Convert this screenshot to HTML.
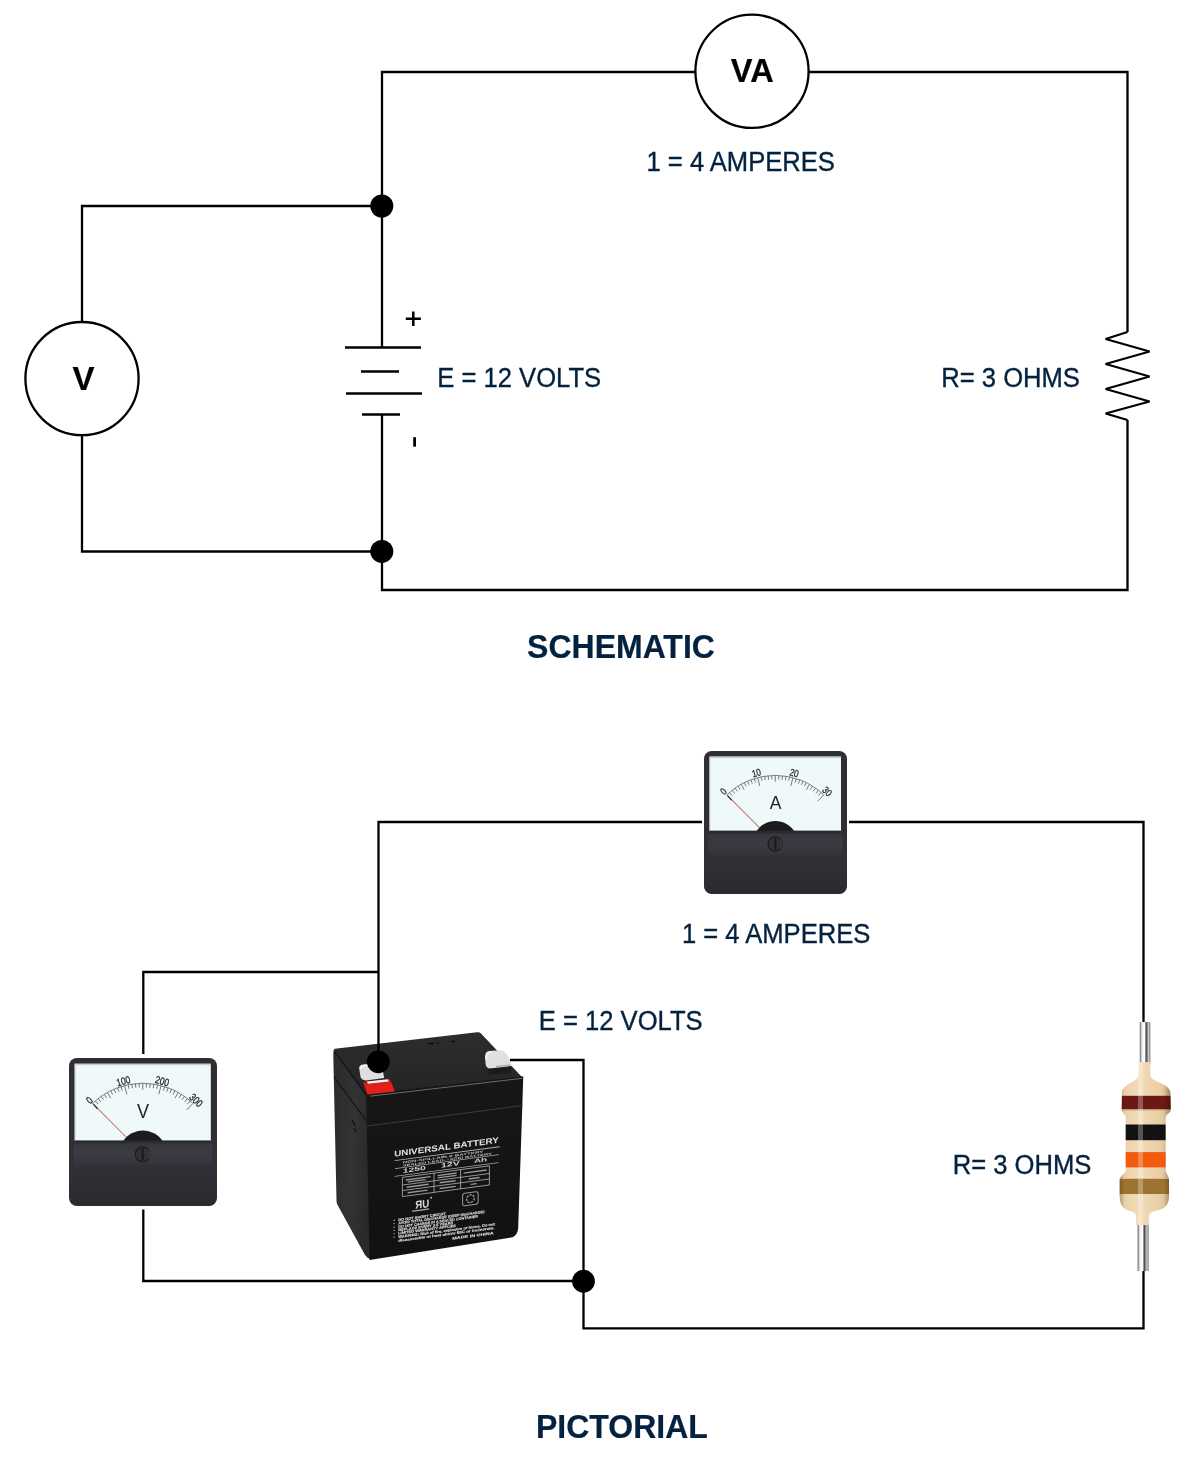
<!DOCTYPE html>
<html><head><meta charset="utf-8"><title>Circuit</title>
<style>html,body{margin:0;padding:0;background:#fff;width:1200px;height:1472px;overflow:hidden}
svg{display:block;font-family:"Liberation Sans",sans-serif;will-change:transform}</style></head>
<body><svg width="1200" height="1472" viewBox="0 0 1200 1472" font-family="Liberation Sans, sans-serif"><defs><linearGradient id="pan1" x1="0" y1="0" x2="0" y2="1"><stop offset="0" stop-color="#2f2f34"/><stop offset="0.4" stop-color="#313036"/><stop offset="1" stop-color="#2b2a2f"/></linearGradient><linearGradient id="pan2" x1="0" y1="0" x2="0" y2="1"><stop offset="0" stop-color="#2f2f34"/><stop offset="0.4" stop-color="#313036"/><stop offset="1" stop-color="#2b2a2f"/></linearGradient><linearGradient id="band1" x1="0" y1="0" x2="0" y2="1"><stop offset="0" stop-color="#2a2a2f"/><stop offset="0.1" stop-color="#37373e"/><stop offset="0.45" stop-color="#3b3b43"/><stop offset="0.8" stop-color="#36363d"/><stop offset="1" stop-color="#313036"/></linearGradient><linearGradient id="band2" x1="0" y1="0" x2="0" y2="1"><stop offset="0" stop-color="#2a2a2f"/><stop offset="0.1" stop-color="#37373e"/><stop offset="0.45" stop-color="#3b3b43"/><stop offset="0.8" stop-color="#36363d"/><stop offset="1" stop-color="#313036"/></linearGradient><linearGradient id="btop" x1="0" y1="0" x2="0" y2="1"><stop offset="0" stop-color="#2d2d2d"/><stop offset="1" stop-color="#242424"/></linearGradient><linearGradient id="bside" x1="0" y1="0" x2="1" y2="0.3"><stop offset="0" stop-color="#2a2a2a"/><stop offset="0.6" stop-color="#333333"/><stop offset="1" stop-color="#2a2a2a"/></linearGradient><linearGradient id="bfront" x1="0" y1="0" x2="0" y2="1"><stop offset="0" stop-color="#171717"/><stop offset="1" stop-color="#111111"/></linearGradient></defs>
<g fill="none" stroke="#000" stroke-width="2.3" stroke-linecap="butt" stroke-linejoin="miter">
<path d="M382,347.5 V72 H1127.5 V332"/>
<path stroke-linejoin="bevel" d="M1127.5,332 L1105.6,339 L1149.6,351.5 L1105.6,364 L1149.6,376.5 L1105.6,389 L1149.6,401.5 L1105.6,413.5 L1127.5,420"/>
<path d="M1127.5,420 V590 H382 V414.4"/>
<path d="M382,206 H82 V551.5 H382"/>
<path d="M345,347.5 H421 M361,371.6 H399 M346,393.5 H422 M362,414.4 H400" stroke-width="2.5"/>
<path d="M405.8,318.7 H420.9 M413.3,311.4 V326.1" stroke-width="2.5"/>
</g>
<rect x="413.2" y="437.2" width="2.8" height="9.5" fill="#000"/>
<circle cx="752" cy="71.3" r="56.6" fill="#fff" stroke="#000" stroke-width="2.3"/>
<circle cx="82" cy="378.6" r="56.6" fill="#fff" stroke="#000" stroke-width="2.3"/>
<circle cx="381.8" cy="206" r="11.5" fill="#000"/>
<circle cx="381.8" cy="551.4" r="11.5" fill="#000"/>
<text transform="translate(752.3,82) scale(1,1.04)" font-size="32.6" font-weight="bold" fill="#000" stroke="#000" stroke-width="0.2" text-anchor="middle">VA</text>
<text transform="translate(83.4,390) scale(1,1.03)" font-size="33" font-weight="bold" fill="#000" stroke="#000" stroke-width="0.2" text-anchor="middle">V</text>
<text transform="translate(646.5,171) scale(1,1.055)" font-size="25.6" fill="#03223f" stroke="#03223f" stroke-width="0.35" text-anchor="start">1 = 4 AMPERES</text>
<text transform="translate(437.3,387) scale(1,1.055)" font-size="25.6" fill="#03223f" stroke="#03223f" stroke-width="0.35" text-anchor="start">E = 12 VOLTS</text>
<text transform="translate(941.3,387) scale(1,1.055)" font-size="25.6" fill="#03223f" stroke="#03223f" stroke-width="0.35" text-anchor="start">R= 3 OHMS</text>
<text transform="translate(621,658) scale(1,1.06)" font-size="32" font-weight="bold" fill="#03223f" stroke="#03223f" stroke-width="0.2" text-anchor="middle">SCHEMATIC</text>
<g transform="translate(704,751) scale(0.9662162162162162)">
<rect x="0" y="0" width="148" height="148" rx="8" fill="#2e2e33"/>
<rect x="0.6" y="84" width="146.8" height="63.4" rx="7.5" fill="url(#pan1)"/>
<rect x="4.6" y="84" width="138.8" height="25" rx="3" fill="url(#band1)"/>
<rect x="5.6" y="5.7" width="136.2" height="77.6" fill="#f0f9f9"/>
<rect x="5.6" y="5.7" width="136.2" height="1.6" fill="#b9c0c2" opacity="0.7"/>
<rect x="5.6" y="5.7" width="1.2" height="77" fill="#c5cdcf" opacity="0.6"/>
<path d="M23.65,45.46 A72.2,72.2 0 0 1 123.95,45.46" fill="none" stroke="#74777a" stroke-width="0.95"/>
<line x1="23.65" y1="45.46" x2="29.90" y2="51.94" stroke="#6c6f72" stroke-width="0.95"/>
<line x1="26.37" y1="42.97" x2="29.13" y2="46.13" stroke="#6c6f72" stroke-width="0.95"/>
<line x1="29.22" y1="40.61" x2="31.81" y2="43.91" stroke="#6c6f72" stroke-width="0.95"/>
<line x1="32.18" y1="38.40" x2="34.60" y2="41.83" stroke="#6c6f72" stroke-width="0.95"/>
<line x1="35.26" y1="36.35" x2="37.50" y2="39.90" stroke="#6c6f72" stroke-width="0.95"/>
<line x1="38.43" y1="34.46" x2="41.61" y2="40.12" stroke="#6c6f72" stroke-width="0.95"/>
<line x1="41.70" y1="32.73" x2="43.56" y2="36.49" stroke="#6c6f72" stroke-width="0.95"/>
<line x1="45.05" y1="31.17" x2="46.72" y2="35.02" stroke="#6c6f72" stroke-width="0.95"/>
<line x1="48.48" y1="29.79" x2="49.95" y2="33.72" stroke="#6c6f72" stroke-width="0.95"/>
<line x1="51.97" y1="28.58" x2="53.24" y2="32.58" stroke="#6c6f72" stroke-width="0.95"/>
<line x1="55.52" y1="27.55" x2="57.80" y2="36.26" stroke="#6c6f72" stroke-width="0.95"/>
<line x1="59.12" y1="26.71" x2="59.97" y2="30.82" stroke="#6c6f72" stroke-width="0.95"/>
<line x1="62.75" y1="26.05" x2="63.40" y2="30.20" stroke="#6c6f72" stroke-width="0.95"/>
<line x1="66.42" y1="25.58" x2="66.85" y2="29.76" stroke="#6c6f72" stroke-width="0.95"/>
<line x1="70.11" y1="25.29" x2="70.32" y2="29.49" stroke="#6c6f72" stroke-width="0.95"/>
<line x1="73.80" y1="25.20" x2="73.80" y2="31.70" stroke="#6c6f72" stroke-width="0.95"/>
<line x1="77.49" y1="25.29" x2="77.28" y2="29.49" stroke="#6c6f72" stroke-width="0.95"/>
<line x1="81.18" y1="25.58" x2="80.75" y2="29.76" stroke="#6c6f72" stroke-width="0.95"/>
<line x1="84.85" y1="26.05" x2="84.20" y2="30.20" stroke="#6c6f72" stroke-width="0.95"/>
<line x1="88.48" y1="26.71" x2="87.63" y2="30.82" stroke="#6c6f72" stroke-width="0.95"/>
<line x1="92.08" y1="27.55" x2="89.80" y2="36.26" stroke="#6c6f72" stroke-width="0.95"/>
<line x1="95.63" y1="28.58" x2="94.36" y2="32.58" stroke="#6c6f72" stroke-width="0.95"/>
<line x1="99.12" y1="29.79" x2="97.65" y2="33.72" stroke="#6c6f72" stroke-width="0.95"/>
<line x1="102.55" y1="31.17" x2="100.88" y2="35.02" stroke="#6c6f72" stroke-width="0.95"/>
<line x1="105.90" y1="32.73" x2="104.04" y2="36.49" stroke="#6c6f72" stroke-width="0.95"/>
<line x1="109.17" y1="34.46" x2="105.99" y2="40.12" stroke="#6c6f72" stroke-width="0.95"/>
<line x1="112.34" y1="36.35" x2="110.10" y2="39.90" stroke="#6c6f72" stroke-width="0.95"/>
<line x1="115.42" y1="38.40" x2="113.00" y2="41.83" stroke="#6c6f72" stroke-width="0.95"/>
<line x1="118.38" y1="40.61" x2="115.79" y2="43.91" stroke="#6c6f72" stroke-width="0.95"/>
<line x1="121.23" y1="42.97" x2="118.47" y2="46.13" stroke="#6c6f72" stroke-width="0.95"/>
<line x1="123.95" y1="45.46" x2="117.70" y2="51.94" stroke="#6c6f72" stroke-width="0.95"/>
<text transform="translate(20.31,42.01) rotate(-44.0) scale(0.8,1)" font-size="10.5" fill="#222" stroke="#222" stroke-width="0.25" text-anchor="middle" dominant-baseline="central">0</text>
<text transform="translate(54.30,22.91) rotate(-14.7) scale(0.8,1)" font-size="10.5" fill="#222" stroke="#222" stroke-width="0.25" text-anchor="middle" dominant-baseline="central">10</text>
<text transform="translate(93.30,22.91) rotate(14.7) scale(0.8,1)" font-size="10.5" fill="#222" stroke="#222" stroke-width="0.25" text-anchor="middle" dominant-baseline="central">20</text>
<text transform="translate(127.29,42.01) rotate(44.0) scale(0.8,1)" font-size="10.5" fill="#222" stroke="#222" stroke-width="0.25" text-anchor="middle" dominant-baseline="central">30</text>
<text transform="translate(74,60.3) scale(0.93,1)" font-size="19.5" fill="#262626" text-anchor="middle">A</text>
<line x1="24.34" y1="46.18" x2="61" y2="83" stroke="#c27664" stroke-width="1.05"/>
<line x1="24.34" y1="46.18" x2="28.54" y2="50.78" stroke="#333" stroke-width="1.3"/>
<path d="M54.3,83 A23.5,23.5 0 0 1 93.5,83 Z" fill="#1b1b1d"/>
<rect x="5.6" y="82.4" width="136.2" height="1.8" fill="#2a2a2e"/>
<circle cx="73.7" cy="96.2" r="7.4" fill="#313137" stroke="#1c1c20" stroke-width="1.3"/>
<path d="M78.5,91.5 A6,6 0 0 1 78.5,101" stroke="#45454c" stroke-width="1" fill="none"/>
<rect x="72.5" y="90.2" width="2.4" height="12" rx="1.1" fill="#1c1c1f"/>
</g>
<g transform="translate(69,1058) scale(1.0)">
<rect x="0" y="0" width="148" height="148" rx="8" fill="#2e2e33"/>
<rect x="0.6" y="84" width="146.8" height="63.4" rx="7.5" fill="url(#pan2)"/>
<rect x="4.6" y="84" width="138.8" height="25" rx="3" fill="url(#band2)"/>
<rect x="5.6" y="5.7" width="136.2" height="77.6" fill="#f0f9f9"/>
<rect x="5.6" y="5.7" width="136.2" height="1.6" fill="#b9c0c2" opacity="0.7"/>
<rect x="5.6" y="5.7" width="1.2" height="77" fill="#c5cdcf" opacity="0.6"/>
<path d="M23.65,45.46 A72.2,72.2 0 0 1 123.95,45.46" fill="none" stroke="#74777a" stroke-width="0.95"/>
<line x1="23.65" y1="45.46" x2="29.90" y2="51.94" stroke="#6c6f72" stroke-width="0.95"/>
<line x1="26.37" y1="42.97" x2="29.13" y2="46.13" stroke="#6c6f72" stroke-width="0.95"/>
<line x1="29.22" y1="40.61" x2="31.81" y2="43.91" stroke="#6c6f72" stroke-width="0.95"/>
<line x1="32.18" y1="38.40" x2="34.60" y2="41.83" stroke="#6c6f72" stroke-width="0.95"/>
<line x1="35.26" y1="36.35" x2="37.50" y2="39.90" stroke="#6c6f72" stroke-width="0.95"/>
<line x1="38.43" y1="34.46" x2="41.61" y2="40.12" stroke="#6c6f72" stroke-width="0.95"/>
<line x1="41.70" y1="32.73" x2="43.56" y2="36.49" stroke="#6c6f72" stroke-width="0.95"/>
<line x1="45.05" y1="31.17" x2="46.72" y2="35.02" stroke="#6c6f72" stroke-width="0.95"/>
<line x1="48.48" y1="29.79" x2="49.95" y2="33.72" stroke="#6c6f72" stroke-width="0.95"/>
<line x1="51.97" y1="28.58" x2="53.24" y2="32.58" stroke="#6c6f72" stroke-width="0.95"/>
<line x1="55.52" y1="27.55" x2="57.80" y2="36.26" stroke="#6c6f72" stroke-width="0.95"/>
<line x1="59.12" y1="26.71" x2="59.97" y2="30.82" stroke="#6c6f72" stroke-width="0.95"/>
<line x1="62.75" y1="26.05" x2="63.40" y2="30.20" stroke="#6c6f72" stroke-width="0.95"/>
<line x1="66.42" y1="25.58" x2="66.85" y2="29.76" stroke="#6c6f72" stroke-width="0.95"/>
<line x1="70.11" y1="25.29" x2="70.32" y2="29.49" stroke="#6c6f72" stroke-width="0.95"/>
<line x1="73.80" y1="25.20" x2="73.80" y2="31.70" stroke="#6c6f72" stroke-width="0.95"/>
<line x1="77.49" y1="25.29" x2="77.28" y2="29.49" stroke="#6c6f72" stroke-width="0.95"/>
<line x1="81.18" y1="25.58" x2="80.75" y2="29.76" stroke="#6c6f72" stroke-width="0.95"/>
<line x1="84.85" y1="26.05" x2="84.20" y2="30.20" stroke="#6c6f72" stroke-width="0.95"/>
<line x1="88.48" y1="26.71" x2="87.63" y2="30.82" stroke="#6c6f72" stroke-width="0.95"/>
<line x1="92.08" y1="27.55" x2="89.80" y2="36.26" stroke="#6c6f72" stroke-width="0.95"/>
<line x1="95.63" y1="28.58" x2="94.36" y2="32.58" stroke="#6c6f72" stroke-width="0.95"/>
<line x1="99.12" y1="29.79" x2="97.65" y2="33.72" stroke="#6c6f72" stroke-width="0.95"/>
<line x1="102.55" y1="31.17" x2="100.88" y2="35.02" stroke="#6c6f72" stroke-width="0.95"/>
<line x1="105.90" y1="32.73" x2="104.04" y2="36.49" stroke="#6c6f72" stroke-width="0.95"/>
<line x1="109.17" y1="34.46" x2="105.99" y2="40.12" stroke="#6c6f72" stroke-width="0.95"/>
<line x1="112.34" y1="36.35" x2="110.10" y2="39.90" stroke="#6c6f72" stroke-width="0.95"/>
<line x1="115.42" y1="38.40" x2="113.00" y2="41.83" stroke="#6c6f72" stroke-width="0.95"/>
<line x1="118.38" y1="40.61" x2="115.79" y2="43.91" stroke="#6c6f72" stroke-width="0.95"/>
<line x1="121.23" y1="42.97" x2="118.47" y2="46.13" stroke="#6c6f72" stroke-width="0.95"/>
<line x1="123.95" y1="45.46" x2="117.70" y2="51.94" stroke="#6c6f72" stroke-width="0.95"/>
<text transform="translate(20.31,42.01) rotate(-44.0) scale(0.8,1)" font-size="10.5" fill="#222" stroke="#222" stroke-width="0.25" text-anchor="middle" dominant-baseline="central">0</text>
<text transform="translate(54.30,22.91) rotate(-14.7) scale(0.8,1)" font-size="10.5" fill="#222" stroke="#222" stroke-width="0.25" text-anchor="middle" dominant-baseline="central">100</text>
<text transform="translate(93.30,22.91) rotate(14.7) scale(0.8,1)" font-size="10.5" fill="#222" stroke="#222" stroke-width="0.25" text-anchor="middle" dominant-baseline="central">200</text>
<text transform="translate(127.29,42.01) rotate(44.0) scale(0.8,1)" font-size="10.5" fill="#222" stroke="#222" stroke-width="0.25" text-anchor="middle" dominant-baseline="central">300</text>
<text transform="translate(74,60.3) scale(0.93,1)" font-size="19.5" fill="#262626" text-anchor="middle">V</text>
<line x1="24.34" y1="46.18" x2="61" y2="83" stroke="#c27664" stroke-width="1.05"/>
<line x1="24.34" y1="46.18" x2="28.54" y2="50.78" stroke="#333" stroke-width="1.3"/>
<path d="M54.3,83 A23.5,23.5 0 0 1 93.5,83 Z" fill="#1b1b1d"/>
<rect x="5.6" y="82.4" width="136.2" height="1.8" fill="#2a2a2e"/>
<circle cx="73.7" cy="96.2" r="7.4" fill="#313137" stroke="#1c1c20" stroke-width="1.3"/>
<path d="M78.5,91.5 A6,6 0 0 1 78.5,101" stroke="#45454c" stroke-width="1" fill="none"/>
<rect x="72.5" y="90.2" width="2.4" height="12" rx="1.1" fill="#1c1c1f"/>
</g>
<g>
<path d="M333.6,1050 L367.5,1094.1 L370.5,1259 Q367,1258 365,1255 L337.3,1204.5 Q336.5,1203 336.5,1200 L333.4,1060 Q333.2,1052 333.6,1050 Z" fill="url(#bside)"/>
<path d="M333.6,1050 Q334.5,1048.6 337,1048.6 L477,1032.3 Q479.5,1032 481,1033.5 L523.3,1078.5 L366.1,1096.3 Z" fill="url(#btop)"/>
<path d="M366.1,1094.1 L523.3,1076.3 L522.5,1100 L518.2,1228 Q517.8,1234.5 512.5,1237.3 L369.5,1260 Z" fill="url(#bfront)"/>
<path d="M370,1096.2 L522.5,1078.3" stroke="#6a6a6a" stroke-width="1" fill="none"/>
<path d="M367,1126.1 L522.7,1105.5" stroke="#3c3c3c" stroke-width="1" fill="none"/>
<path d="M334,1077 L366.5,1121" stroke="#111" stroke-width="1.1" fill="none"/>
<path d="M334.5,1051.5 L366,1094.5" stroke="#141414" stroke-width="1.3" fill="none"/>
<path d="M352,1120 l3,6 M354,1128 l2,4" stroke="#111" stroke-width="1.2"/>
<path d="M428,1043.5 h6 M437,1043 h2 M451,1041.5 h4" stroke="#0e0e0e" stroke-width="1.7"/>
<path d="M363,1082 L390,1079.5 L395,1091.5 L367.5,1094.5 Z" fill="#e1201a"/>
<path d="M363,1082 L390,1079.5 L391,1082 L364,1084.5 Z" fill="#a3140f" opacity="0.6"/>
<path d="M367,1081.5 L388,1079.2 L388.8,1081.5 L367.8,1083.8 Z" fill="#f6f6f6"/>
<path d="M359.2,1068 Q359.6,1065 363,1064.6 L377,1063.4 Q381,1063.3 382,1066 L384.2,1078 L366,1080.5 Q361.5,1080 360.5,1077 Z" fill="#dedede"/>
<path d="M360,1069 Q361,1066 365,1065.5 L372,1065" stroke="#f8f8f8" stroke-width="1.5" fill="none"/>
<path d="M487.5,1066 L510.5,1064 L511,1073 L489,1075 Z" fill="#1b1b1b"/>
<path d="M485,1056 Q485.5,1051.5 489,1051 L500,1050.2 Q504,1050 506,1053 L510.6,1061 L511.4,1066 L489.5,1068.4 Q486,1068 485.6,1064 Z" fill="#e0e0e0"/>
<path d="M486,1060 Q486,1052 492,1052" stroke="#f4f4f4" stroke-width="1.6" fill="none"/>
<path d="M496,1066.5 L510.5,1065" stroke="#9a9a9a" stroke-width="1"/>
<g transform="matrix(1,-0.133,0,1,394.6,1156.6)">
<text x="-0.4" y="0" font-size="8.3" font-weight="bold" textLength="104.5" lengthAdjust="spacingAndGlyphs" fill="#e2e2e2">UNIVERSAL BATTERY</text>
<rect x="0" y="3.6" width="105" height="0.9" fill="#b4b4b4"/>
<text x="8.2" y="7.9" font-size="3" font-weight="bold" textLength="80.5" lengthAdjust="spacingAndGlyphs" fill="#c0c0c0">NON-SPILLABLE BATTERY</text>
<text x="8.2" y="11.1" font-size="3" font-weight="bold" textLength="89" lengthAdjust="spacingAndGlyphs" fill="#c0c0c0">SEALED LEAD—ACID BATTERY</text>
<rect x="0.4" y="11.6" width="104" height="0.8" fill="#a8a8a8"/>
<text x="8.2" y="17.4" font-size="6" font-weight="bold" textLength="23" lengthAdjust="spacingAndGlyphs" fill="#d0d0d0">1250</text>
<text x="46.3" y="17.2" font-size="6.2" font-weight="bold" textLength="18.8" lengthAdjust="spacingAndGlyphs" fill="#d0d0d0">12V</text>
<text x="79.3" y="16.9" font-size="5.6" font-weight="bold" textLength="13.3" lengthAdjust="spacingAndGlyphs" fill="#c8c8c8">Ah</text>
<rect x="0" y="19.4" width="104" height="0.8" fill="#a8a8a8"/>
<g fill="none" stroke="#b0b0b0" stroke-width="0.8"><rect x="7.8" y="21.8" width="87" height="19.2"/><path d="M7.8,29.5 H94.8 M7.8,35 H94.8 M39.4,21.8 V41 M66,21.8 V41"/></g>
<g fill="#9a9a9a"><rect x="11" y="24.2" width="25" height="1.3"/><rect x="13" y="26.5" width="18" height="1.2"/><rect x="43" y="24" width="19" height="1.3"/><rect x="43" y="26.4" width="19" height="1.2"/><rect x="69" y="25" width="23" height="1.3"/><rect x="12" y="31.5" width="22" height="1.4"/><rect x="45" y="31.5" width="16" height="1.4"/><rect x="74" y="31.5" width="11" height="1.4"/><rect x="13" y="37.2" width="20" height="1.4"/><rect x="45" y="37.2" width="16" height="1.4"/><rect x="76" y="37.2" width="6" height="1.4"/></g>
<text x="20.6" y="55" font-size="11" font-weight="bold" textLength="14" lengthAdjust="spacingAndGlyphs" fill="#dcdcdc">ЯU</text>
<circle cx="36.5" cy="46" r="0.9" fill="#bbb"/>
<rect x="17.5" y="56.2" width="17" height="1.6" fill="#9a9a9a"/>
<rect x="68" y="46" width="15.5" height="12.5" rx="2.2" fill="none" stroke="#9c9c9c" stroke-width="1"/>
<circle cx="75.8" cy="52.2" r="3.8" fill="none" stroke="#a0a0a0" stroke-width="1.4" stroke-dasharray="2.2 1.1"/>
<text x="3.6" y="65.1" font-size="3.5" font-weight="bold" textLength="47.7" lengthAdjust="spacingAndGlyphs" fill="#dadada" stroke="#dadada" stroke-width="0.15">DO NOT SHORT CIRCUIT</text>
<rect x="-1.1" y="63.1" width="1.2" height="1.2" fill="#aaa"/>
<text x="3.6" y="68.3" font-size="3.5" font-weight="bold" textLength="86.2" lengthAdjust="spacingAndGlyphs" fill="#dadada" stroke="#dadada" stroke-width="0.15">AVOID TOTAL DISCHARGE (DEEP DISCHARGE)</text>
<rect x="-1.1" y="66.3" width="1.2" height="1.2" fill="#aaa"/>
<text x="3.6" y="72.0" font-size="3.5" font-weight="bold" textLength="79.8" lengthAdjust="spacingAndGlyphs" fill="#dadada" stroke="#dadada" stroke-width="0.15">DO NOT CHARGE IN A SEALED CONTAINER</text>
<rect x="-1.1" y="70.0" width="1.2" height="1.2" fill="#aaa"/>
<text x="3.6" y="75.2" font-size="3.5" font-weight="bold" textLength="55.0" lengthAdjust="spacingAndGlyphs" fill="#dadada" stroke="#dadada" stroke-width="0.15">REPLACE EVERY 3-5 YEARS</text>
<rect x="-1.1" y="73.2" width="1.2" height="1.2" fill="#aaa"/>
<text x="3.6" y="78.4" font-size="3.5" font-weight="bold" textLength="57.8" lengthAdjust="spacingAndGlyphs" fill="#dadada" stroke="#dadada" stroke-width="0.15">LIMITED WARRANTY APPLIES</text>
<rect x="-1.1" y="76.4" width="1.2" height="1.2" fill="#aaa"/>
<text x="3.6" y="82.0" font-size="3.5" font-weight="bold" textLength="96.7" lengthAdjust="spacingAndGlyphs" fill="#dadada" stroke="#dadada" stroke-width="0.15">WARNING: Risk of fire, explosion or burns. Do not</text>
<rect x="-1.1" y="80.0" width="1.2" height="1.2" fill="#aaa"/>
<text x="3.6" y="85.7" font-size="3.5" font-weight="bold" textLength="96.3" lengthAdjust="spacingAndGlyphs" fill="#dadada" stroke="#dadada" stroke-width="0.15">disassemble or heat above 50C or incinerate.</text>
<text x="57.7" y="90.8" font-size="3.6" font-weight="bold" textLength="41.3" lengthAdjust="spacingAndGlyphs" fill="#d6d6d6" stroke="#d6d6d6" stroke-width="0.15">MADE IN CHINA</text>
</g>
</g>
<defs><linearGradient id="lead" x1="0" y1="0" x2="1" y2="0"><stop offset="0" stop-color="#5a5a5a"/><stop offset="0.2" stop-color="#eeeeee"/><stop offset="0.45" stop-color="#ffffff"/><stop offset="0.6" stop-color="#444"/><stop offset="0.85" stop-color="#d0d0d0"/><stop offset="1" stop-color="#6a6a6a"/></linearGradient><linearGradient id="rbody" x1="0" y1="0" x2="1" y2="0"><stop offset="0" stop-color="#d9bb8e"/><stop offset="0.15" stop-color="#ecd2ab"/><stop offset="0.4" stop-color="#f3dcba"/><stop offset="0.8" stop-color="#e8cca2"/><stop offset="1" stop-color="#caa978"/></linearGradient><linearGradient id="rshade" x1="0" y1="0" x2="1" y2="0"><stop offset="0" stop-color="#000" stop-opacity="0.25"/><stop offset="0.12" stop-color="#000" stop-opacity="0"/><stop offset="0.85" stop-color="#000" stop-opacity="0"/><stop offset="1" stop-color="#000" stop-opacity="0.3"/></linearGradient><clipPath id="rclip"><path id="rpath" d="M1138.6,1062 V1075 C1138.6,1082 1123.4,1083 1122,1092 L1121.7,1110 C1121.7,1113 1125.7,1114 1125.7,1118 V1170 C1125.7,1174 1119.7,1175 1119.7,1180 V1196 C1119.7,1205 1123,1209 1129,1210.8 Q1136,1212.3 1136.1,1216 V1225 H1148.8 V1216 Q1149,1212.3 1156,1210.8 C1165,1209 1169,1205 1169,1196 V1180 C1169,1175 1165.6,1174 1165.6,1170 V1118 C1165.6,1114 1170.7,1113 1170.7,1110 L1170.4,1092 C1169,1083 1150.3,1082 1150.3,1075 V1062 Z"/></clipPath></defs>
<rect x="1139.8" y="1022" width="10.5" height="42" fill="url(#lead)"/>
<rect x="1137.6" y="1223" width="11" height="48" fill="url(#lead)"/>
<g clip-path="url(#rclip)">
<rect x="1118" y="1060" width="54" height="167" fill="url(#rbody)"/>
<rect x="1118" y="1095.8" width="54" height="13.5" fill="#6b1912"/>
<rect x="1118" y="1124.5" width="54" height="15.7" fill="#121212"/>
<rect x="1118" y="1152.1" width="54" height="15.3" fill="#f25a0c"/>
<rect x="1118" y="1179" width="54" height="15" fill="#9c7330"/>
<rect x="1118" y="1060" width="54" height="167" fill="url(#rshade)"/>
<rect x="1138" y="1060" width="5" height="167" fill="#fff" opacity="0.28"/>
</g>
<path d="M1122,1110.5 H1170 M1120,1178.5 H1168.5" stroke="#b8a88a" stroke-width="0.8" opacity="0.6"/>
<g fill="none" stroke="#000" stroke-width="2.3">
<path d="M378.5,1062 V822 H702"/>
<path d="M849,822 H1143.5 V1022"/>
<path d="M1143.5,1271 V1328.4 H583.5 V1060 H510"/>
<path d="M143.3,1054 V972 H378.5"/>
<path d="M143.3,1209.6 V1281 H583.5"/>
</g>
<circle cx="378.3" cy="1061.8" r="11.4" fill="#000"/>
<circle cx="583.5" cy="1281.2" r="11.4" fill="#000"/>
<text transform="translate(681.9,943) scale(1,1.055)" font-size="25.6" fill="#03223f" stroke="#03223f" stroke-width="0.35" text-anchor="start">1 = 4 AMPERES</text>
<text transform="translate(538.8,1030) scale(1,1.055)" font-size="25.6" fill="#03223f" stroke="#03223f" stroke-width="0.35" text-anchor="start">E = 12 VOLTS</text>
<text transform="translate(952.7,1173.5) scale(1,1.055)" font-size="25.6" fill="#03223f" stroke="#03223f" stroke-width="0.35" text-anchor="start">R= 3 OHMS</text>
<text transform="translate(621.9,1437.5) scale(1,1.06)" font-size="32" font-weight="bold" fill="#03223f" stroke="#03223f" stroke-width="0.2" text-anchor="middle">PICTORIAL</text></svg></body></html>
